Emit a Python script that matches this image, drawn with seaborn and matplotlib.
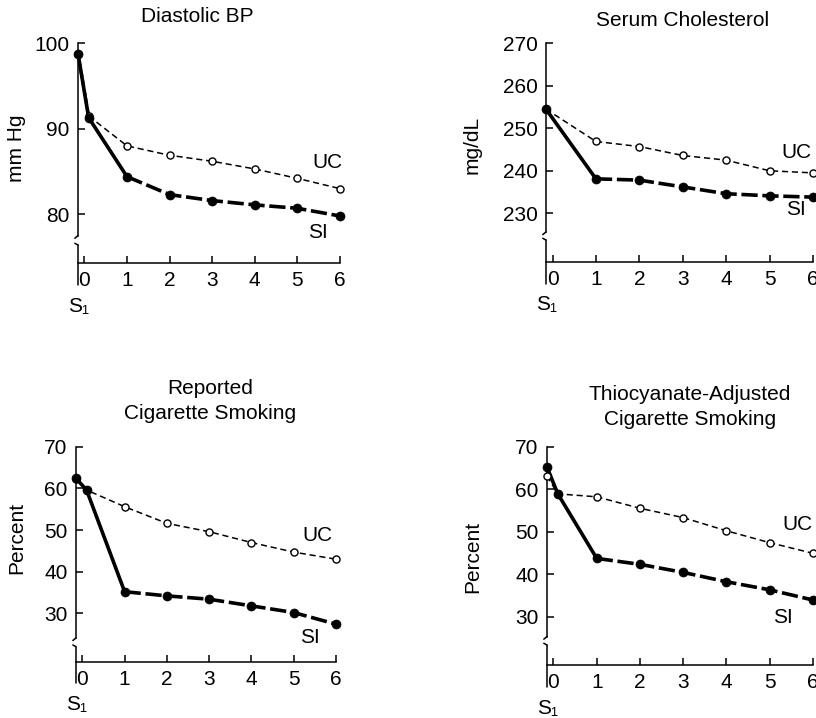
import numpy as np
import pandas as pd
import matplotlib
matplotlib.use("Agg")
import matplotlib.pyplot as plt
import seaborn as sns

# visits: S1 (screening), 0, then years 1..6
visit_x = [-0.15, 0.1, 1, 2, 3, 4, 5, 6]
year_ticks = [0, 1, 2, 3, 4, 5, 6]

# Diastolic BP (mm Hg)
dbp_si = [98.8, 91.3, 84.4, 82.3, 81.6, 81.1, 80.7, 79.8]
dbp_uc = [98.8, 91.5, 88.0, 86.9, 86.2, 85.3, 84.2, 83.0]

# Serum cholesterol (mg/dL), no value at visit 0
chol_si = [254.5, np.nan, 238.1, 237.8, 236.2, 234.6, 234.1, 233.8]
chol_uc = [254.5, np.nan, 246.9, 245.7, 243.6, 242.5, 240.0, 239.5]

# Reported cigarette smoking (%)
smk_si = [62.4, 59.6, 35.2, 34.2, 33.4, 31.8, 30.2, 27.4]
smk_uc = [62.2, 59.6, 55.6, 51.6, 49.6, 47.0, 44.7, 43.0]

# Thiocyanate-adjusted cigarette smoking (%)
thio_si = [65.2, 58.9, 43.7, 42.3, 40.4, 38.2, 36.3, 33.9]
thio_uc = [63.1, 58.9, 58.2, 55.5, 53.3, 50.2, 47.4, 44.9]

sns.set_theme(style="white")
plt.rcParams["font.family"] = ["Liberation Sans", "DejaVu Sans"]
plt.rcParams["text.color"] = "black"

W, H = 816, 718
fig = plt.figure(figsize=(W / 100, H / 100), dpi=100)


def rect(left, right, top, bottom):
    return [left / W, 1 - bottom / H, (right - left) / W, (bottom - top) / H]


panels = [
    dict(title="Diastolic BP", tpos=(197, 17), ylabel="mm Hg", ypos=(17, 148),
         si=dbp_si, uc=dbp_uc, yticks=[80, 90, 100], ylim=(74.3, 100),
         brk=(76.4, 77.5), rect=rect(78, 340, 43.3, 263),
         uc_lab=(5.70, 86.1), si_lab=(5.48, 77.9)),
    dict(title="Serum Cholesterol", tpos=(683, 20), ylabel="mg/dL", ypos=(472, 145),
         si=chol_si, uc=chol_uc, yticks=[230, 240, 250, 260, 270], ylim=(218.6, 270),
         brk=(223.7, 225.6), rect=rect(546, 813, 43.3, 261.7),
         uc_lab=(5.63, 244.2), si_lab=(5.61, 231.0)),
    dict(title="Reported\nCigarette Smoking", tpos=(210, 401), ylabel="Percent", ypos=(17, 538),
         si=smk_si, uc=smk_uc, yticks=[30, 40, 50, 60, 70], ylim=(18.4, 70),
         brk=(22.0, 24.1), rect=rect(76, 336, 446.7, 661.7),
         uc_lab=(5.57, 48.6), si_lab=(5.38, 24.3)),
    dict(title="Thiocyanate-Adjusted\nCigarette Smoking", tpos=(690, 407), ylabel="Percent", ypos=(473, 557),
         si=thio_si, uc=thio_uc, yticks=[30, 40, 50, 60, 70], ylim=(18.6, 70),
         brk=(23.3, 25.3), rect=rect(547, 813, 446.7, 665),
         uc_lab=(5.63, 51.6), si_lab=(5.31, 29.7)),
]

FS = 15

for i, p in enumerate(panels):
    ax = fig.add_axes(p["rect"])
    df = pd.DataFrame({"x": visit_x, "SI": p["si"], "UC": p["uc"]}).dropna()

    # UC: thin dashed line with open circles (first drop drawn heavier in BP panel)
    if i == 0:
        sns.lineplot(data=df.iloc[:2], x="x", y="UC", ax=ax, color="black", linewidth=2.2,
                     linestyle=(0, (2, 1)), sort=False, estimator=None, clip_on=False)
        uc_line = df.iloc[1:]
    else:
        uc_line = df
    sns.lineplot(data=uc_line, x="x", y="UC", ax=ax, color="black", linewidth=1.1,
                 linestyle=(0, (4, 2.5)), sort=False, estimator=None, clip_on=False)
    # SI: thick solid to year 1, then long dashes
    first = df[df["x"] <= 1]
    rest = df[df["x"] >= 1]
    sns.lineplot(data=first, x="x", y="SI", ax=ax, color="black", linewidth=2.6,
                 sort=False, estimator=None, clip_on=False)
    sns.lineplot(data=rest, x="x", y="SI", ax=ax, color="black", linewidth=2.6,
                 linestyle=(0, (4.5, 1.3)), sort=False, estimator=None, clip_on=False)

    sns.scatterplot(data=df, x="x", y="UC", ax=ax, color="white", edgecolor="black",
                    linewidth=1.0, s=26, zorder=5, clip_on=False, legend=False)
    sns.scatterplot(data=df, x="x", y="SI", ax=ax, color="black", edgecolor="black",
                    linewidth=0.5, s=42, zorder=6, clip_on=False, legend=False)

    ylo, yhi = p["ylim"]
    ax.set_xlim(-0.15, 6)
    ax.set_ylim(ylo, yhi)
    ax.set_xticks(year_ticks)
    ax.set_yticks(p["yticks"])
    ax.set_xlabel("")
    ax.set_ylabel("")
    ax.tick_params(direction="in", length=5, width=1.1, labelsize=FS, pad=6,
                   colors="black", bottom=True, left=True)

    for s in ["top", "right"]:
        ax.spines[s].set_visible(False)
    for s in ["left", "bottom"]:
        ax.spines[s].set_color("black")
        ax.spines[s].set_linewidth(1.1)
    ax.spines["left"].set_bounds(p["brk"][1], yhi)

    # lower piece of the broken y-axis, running a little below the x-axis
    f_lo = (p["brk"][0] - ylo) / (yhi - ylo)
    f_hi = (p["brk"][1] - ylo) / (yhi - ylo)
    ax.plot([0, 0], [f_lo, -0.1], transform=ax.transAxes, color="black",
            lw=1.1, clip_on=False)
    ax.plot([0, -0.012], [f_hi, f_hi - 0.012], transform=ax.transAxes,
            color="black", lw=1.1, clip_on=False)
    ax.plot([0, -0.012], [f_lo, f_lo + 0.008], transform=ax.transAxes,
            color="black", lw=1.1, clip_on=False)

    ax.annotate("S\u2081", xy=(-0.15, 0), xycoords=("data", "axes fraction"),
                xytext=(1, -43), textcoords="offset pixels",
                ha="center", va="center", fontsize=FS)

    ax.text(*p["uc_lab"], "UC", fontsize=FS, ha="center", va="center")
    ax.text(*p["si_lab"], "SI", fontsize=FS, ha="center", va="center")

    fig.text(p["tpos"][0] / W, 1 - p["tpos"][1] / H, p["title"], fontsize=FS,
             ha="center", va="center", linespacing=1.35)
    fig.text(p["ypos"][0] / W, 1 - p["ypos"][1] / H, p["ylabel"], fontsize=FS,
             ha="center", va="center", rotation=90)

fig.savefig("out.png", dpi=100, facecolor="white")
